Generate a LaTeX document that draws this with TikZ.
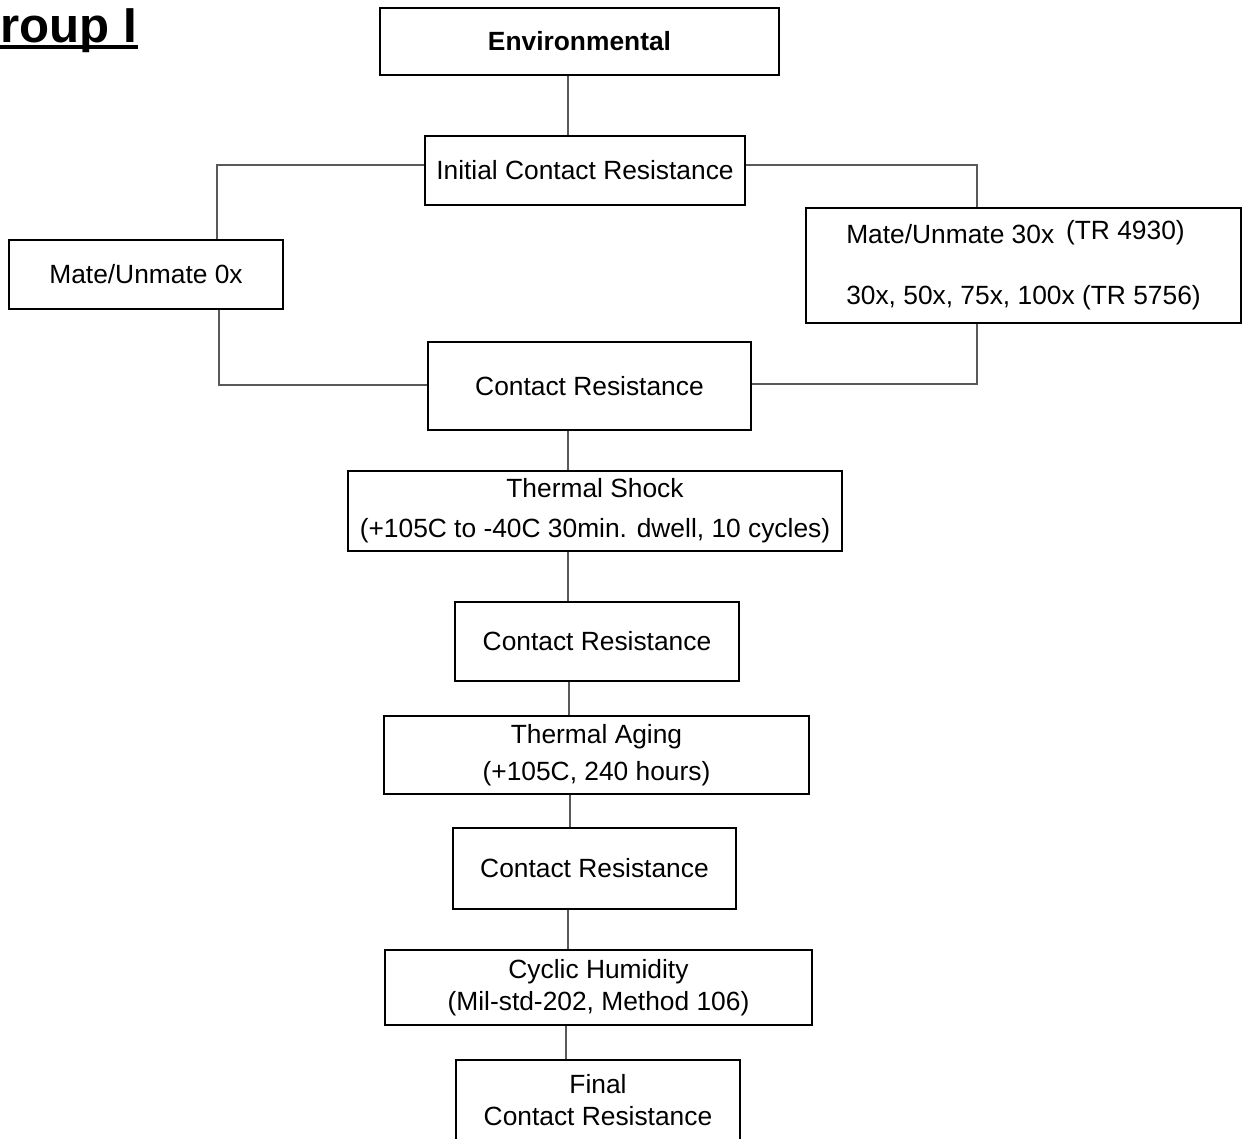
\documentclass[tikz,border=0pt]{standalone}
\usepackage{fontspec}
\setmainfont{Liberation Sans}
\usetikzlibrary{positioning}
\usetikzlibrary{calc}
\colorlet{box colour}{black}
\colorlet{link colour}{black!65}
\tikzset{
    % Box outlines and the thin joining lines
    box/.style={draw=box colour, line width=1.1pt, inner sep=2pt,
        font=\fontsize{15}{18}\selectfont},
    link/.style={color=link colour, line width=0.6pt},
    % Box size given in pixels of the page
    size/.style 2 args={minimum width=#1*0.02cm, minimum height=#2*0.02cm},
    % We almost always want centre aligned node text
    every node/.style={align=center},
}
\begin{document}
\begin{tikzpicture}[x=0.02cm, y=-0.02cm]

% This path fixes the extent of the page.
\useasboundingbox (0,0) rectangle (1249,1139);

% Title, partly off the page
\node (title) [anchor=base west, inner sep=0,
    font=\fontsize{28}{32}\selectfont\bfseries] at (-38,42) {Group I};
\draw [line width=2.2pt] ([yshift=-3pt]title.base west) -- ([yshift=-3pt]title.base east);

% Main column of steps
\node [box, size={399}{67}, font=\fontsize{15}{18}\selectfont\bfseries]
    (env) at (579.5,41.5) {Environmental};
\node [box, size={320}{69}] (init) at (585,170.5) {Initial Contact Resistance};
\node [box, size={323}{88}] (cr1) at (589.5,386) {Contact Resistance};
\node [box, size={494}{80}] (shock) at (595,511)
    {Thermal Shock\\[4.7pt](+105C to -40C 30min. dwell, 10 cycles)};
\node [box, size={284}{79}] (cr2) at (597,641.5) {Contact Resistance};
\node [box, size={425}{78}] (aging) at (596.5,755)
    {Thermal Aging\\[3pt](+105C, 240 hours)};
\node [box, size={283}{81}] (cr3) at (594.5,868.5) {Contact Resistance};
\node [box, size={427}{75}] (humid) at (598.5,987.5)
    {Cyclic Humidity\\(Mil-std-202, Method 106)};
\node [box, size={284}{80}] (final) at (598,1100) {Final\\Contact Resistance};

% Side branches
\node [box, size={274}{69}] (mate zero) at (146,274.5) {Mate/Unmate 0x};
\node [box, size={435}{115}, align=left] (mate thirty) at (1023.5,265.5)
    {Mate/Unmate 30x\hspace{0.45em}\raisebox{2.3pt}{(TR 4930)}\\[16.6pt]30x, 50x, 75x, 100x (TR 5756)};

% Spine joining the column
\foreach \a/\b/\x in {env/init/568, cr1/shock/568, shock/cr2/568,
        cr2/aging/569, aging/cr3/570, cr3/humid/568, humid/final/566} {
    \draw [link] (\a.south -| \x,0) -- (\b.north -| \x,0); }

% Branches round the mate/unmate steps
\draw [link] (init.west |- 0,165) -| (mate zero.north -| 217,0);
\draw [link] (mate zero.south -| 219,0) |- (cr1.west |- 0,385);
\draw [link] (init.east |- 0,165) -| (mate thirty.north -| 977,0);
\draw [link] (mate thirty.south -| 977,0) |- (cr1.east |- 0,384);

\end{tikzpicture}
\end{document}
